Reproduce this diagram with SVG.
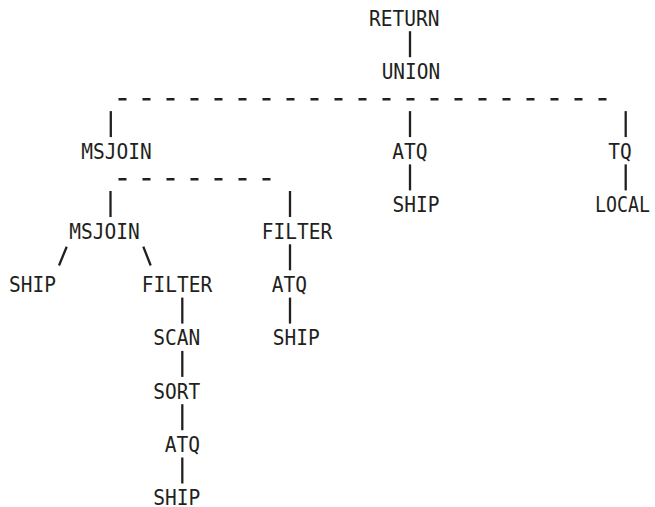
<svg xmlns="http://www.w3.org/2000/svg" width="655" height="507" viewBox="0 0 655 507">
<style>
text{font-family:"DejaVu Sans Mono","Liberation Mono",monospace;font-size:21.5px;fill:#231f20;text-anchor:middle}
.c line{stroke:#231f20;stroke-width:2.3;fill:none}
.c .d{stroke-dasharray:8 16;stroke-width:2.6}
</style>
<rect width="655" height="507" fill="#fff"/>
<g class="c" id="connectors">
<line x1="410" y1="31.2" x2="410" y2="57.2"/>
<line class="d" x1="118.5" y1="99.3" x2="606.5" y2="99.3"/>
<line x1="110.8" y1="111.1" x2="110.8" y2="137.1"/>
<line x1="410" y1="111.1" x2="410" y2="137.1"/>
<line x1="625.7" y1="111.1" x2="625.7" y2="137.1"/>
<line x1="410" y1="164.4" x2="410" y2="190.4"/>
<line x1="625.7" y1="164.4" x2="625.7" y2="190.4"/>
<line class="d" x1="118.5" y1="179.3" x2="270.5" y2="179.3"/>
<line x1="110.5" y1="191" x2="110.5" y2="217"/>
<line x1="290" y1="191" x2="290" y2="217"/>
<line x1="66.7" y1="246.7" x2="59" y2="265.5"/>
<line x1="143.3" y1="246.7" x2="150.7" y2="265.5"/>
<line x1="290" y1="244.3" x2="290" y2="270.3"/>
<line x1="182.3" y1="297.6" x2="182.3" y2="323.6"/>
<line x1="290" y1="297.6" x2="290" y2="323.6"/>
<line x1="182.3" y1="350.9" x2="182.3" y2="376.9"/>
<line x1="182.3" y1="404.2" x2="182.3" y2="430.2"/>
<line x1="182.3" y1="457.5" x2="182.3" y2="483.5"/>
</g>
<g id="return"><text x="404.2" y="25.6" textLength="70.5" lengthAdjust="spacingAndGlyphs">RETURN</text></g>
<g id="union"><text x="410.9" y="78.9" textLength="58.5" lengthAdjust="spacingAndGlyphs">UNION</text></g>
<g id="msjoin1"><text x="116.4" y="158.9" textLength="70.5" lengthAdjust="spacingAndGlyphs">MSJOIN</text></g>
<g id="atq1"><text x="410" y="158.9" textLength="35.3" lengthAdjust="spacingAndGlyphs">ATQ</text></g>
<g id="tq"><text x="620" y="158.9" textLength="23.5" lengthAdjust="spacingAndGlyphs">TQ</text></g>
<g id="ship1"><text x="416" y="212.2" textLength="47" lengthAdjust="spacingAndGlyphs">SHIP</text></g>
<g id="local"><text x="622.6" y="212.2" textLength="55" lengthAdjust="spacingAndGlyphs">LOCAL</text></g>
<g id="msjoin2"><text x="104.5" y="238.8" textLength="70.5" lengthAdjust="spacingAndGlyphs">MSJOIN</text></g>
<g id="filter1"><text x="297" y="238.8" textLength="70.5" lengthAdjust="spacingAndGlyphs">FILTER</text></g>
<g id="ship2"><text x="32.5" y="292.1" textLength="47" lengthAdjust="spacingAndGlyphs">SHIP</text></g>
<g id="filter2"><text x="177" y="292.1" textLength="70.5" lengthAdjust="spacingAndGlyphs">FILTER</text></g>
<g id="atq2"><text x="289.5" y="292.1" textLength="35.3" lengthAdjust="spacingAndGlyphs">ATQ</text></g>
<g id="scan"><text x="176.7" y="345.4" textLength="47" lengthAdjust="spacingAndGlyphs">SCAN</text></g>
<g id="ship3"><text x="296.2" y="345.4" textLength="47" lengthAdjust="spacingAndGlyphs">SHIP</text></g>
<g id="sort"><text x="176.7" y="398.7" textLength="47" lengthAdjust="spacingAndGlyphs">SORT</text></g>
<g id="atq3"><text x="182.5" y="452" textLength="35.3" lengthAdjust="spacingAndGlyphs">ATQ</text></g>
<g id="ship4"><text x="176.7" y="504.5" textLength="47" lengthAdjust="spacingAndGlyphs">SHIP</text></g>
</svg>
